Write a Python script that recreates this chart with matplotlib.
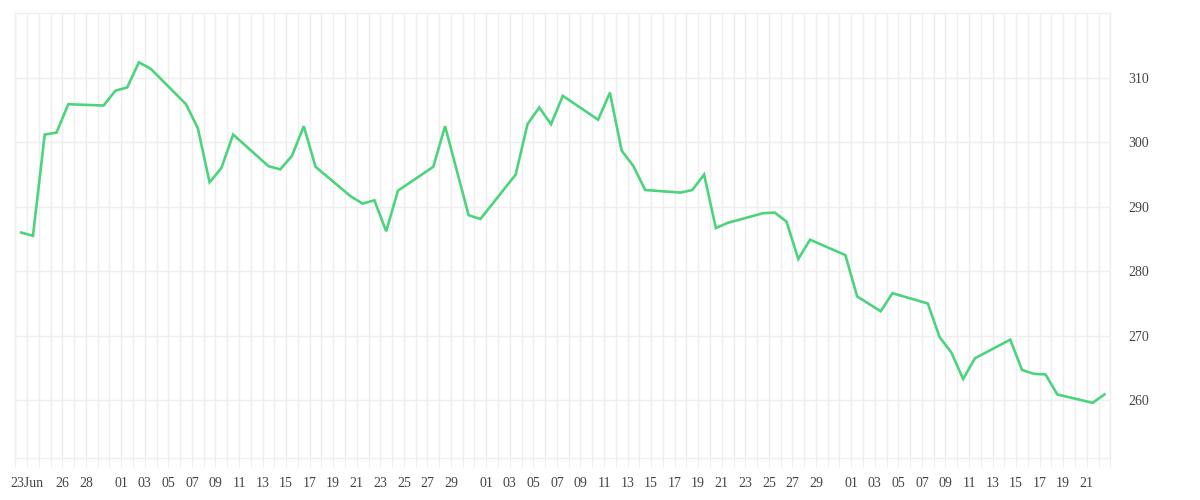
import matplotlib
matplotlib.use("Agg")
import matplotlib.pyplot as plt
import matplotlib.dates as mdates
import numpy as np
import pandas as pd

# trading days (2020) and closing values
dates = ["2020-06-22", "2020-06-23", "2020-06-24", "2020-06-25", "2020-06-26",
         "2020-06-29", "2020-06-30", "2020-07-01", "2020-07-02", "2020-07-03",
         "2020-07-06", "2020-07-07", "2020-07-08", "2020-07-09", "2020-07-10",
         "2020-07-13", "2020-07-14", "2020-07-15", "2020-07-16", "2020-07-17",
         "2020-07-20", "2020-07-21", "2020-07-22", "2020-07-23", "2020-07-24",
         "2020-07-27", "2020-07-28", "2020-07-30", "2020-07-31",
         "2020-08-03", "2020-08-04", "2020-08-05", "2020-08-06", "2020-08-07",
         "2020-08-10", "2020-08-11", "2020-08-12", "2020-08-13", "2020-08-14",
         "2020-08-17", "2020-08-18", "2020-08-19", "2020-08-20", "2020-08-21",
         "2020-08-24", "2020-08-25", "2020-08-26", "2020-08-27", "2020-08-28",
         "2020-08-31", "2020-09-01", "2020-09-03", "2020-09-04",
         "2020-09-07", "2020-09-08", "2020-09-09", "2020-09-10", "2020-09-11",
         "2020-09-14", "2020-09-15", "2020-09-16", "2020-09-17", "2020-09-18",
         "2020-09-21", "2020-09-22"]
values = [286.0, 285.5, 301.2, 301.5, 305.9,
          305.7, 308.0, 308.5, 312.4, 311.4,
          305.9, 302.2, 293.8, 296.0, 301.2,
          296.3, 295.8, 297.9, 302.5, 296.2,
          291.6, 290.5, 291.0, 286.2, 292.5,
          296.2, 302.5, 288.7, 288.1,
          295.0, 302.8, 305.4, 302.8, 307.2,
          303.5, 307.7, 298.7, 296.3, 292.6,
          292.2, 292.6, 295.0, 286.7, 287.5,
          289.0, 289.1, 287.7, 281.9, 284.9,
          282.5, 276.1, 273.8, 276.6,
          275.0, 269.8, 267.4, 263.3, 266.5,
          269.4, 264.7, 264.1, 264.0, 260.9,
          259.6, 260.9]

label_dates = ["2020-06-23", "2020-06-26", "2020-06-28"] + \
    ["2020-07-%02d" % d for d in range(1, 30, 2)] + \
    ["2020-08-%02d" % d for d in range(1, 30, 2)] + \
    ["2020-09-%02d" % d for d in range(1, 22, 2)]
y_ticks = [260, 270, 280, 290, 300, 310]

grid_col = "#eeeeee"
text_col = "#444444"
line_col = "#4cd47c"

x = pd.to_datetime(dates) + pd.Timedelta(hours=12)
start = pd.Timestamp("2020-06-22")
end = pd.Timestamp("2020-09-23")

fig = plt.figure(figsize=(12, 5), dpi=100)
ax = fig.add_axes([0.01275, 0.0834, 0.9125, 0.89])

ax.plot(x, values, color=line_col, linewidth=1.9, solid_joinstyle="miter", zorder=3)

ax.set_xlim(start, end)
ax.set_ylim(251, 320)

days = pd.date_range(start, end, freq="D")
lab_set = set(pd.to_datetime(label_dates))
ax.set_xticks(days)
labels = []
for d in days:
    if d in lab_set:
        labels.append(d.strftime("%d") + ("Jun" if d == pd.Timestamp("2020-06-23") else ""))
    else:
        labels.append("")
ax.set_xticklabels(labels)
ax.grid(axis="x", color=grid_col, linewidth=1, zorder=0)

ax.set_yticks(y_ticks)
ax.yaxis.tick_right()
ax.grid(axis="y", color=grid_col, linewidth=1, zorder=0)

for s in ax.spines.values():
    s.set_color(grid_col)
    s.set_linewidth(1)

ax.tick_params(axis="x", length=6.5, color=grid_col, pad=7, labelcolor=text_col)
ax.tick_params(axis="y", length=0, pad=13, labelcolor=text_col)
for lab in ax.get_xticklabels() + ax.get_yticklabels():
    lab.set_fontfamily("Liberation Serif")
    lab.set_fontsize(10)

fig.savefig("out.png", dpi=100, facecolor="white")
